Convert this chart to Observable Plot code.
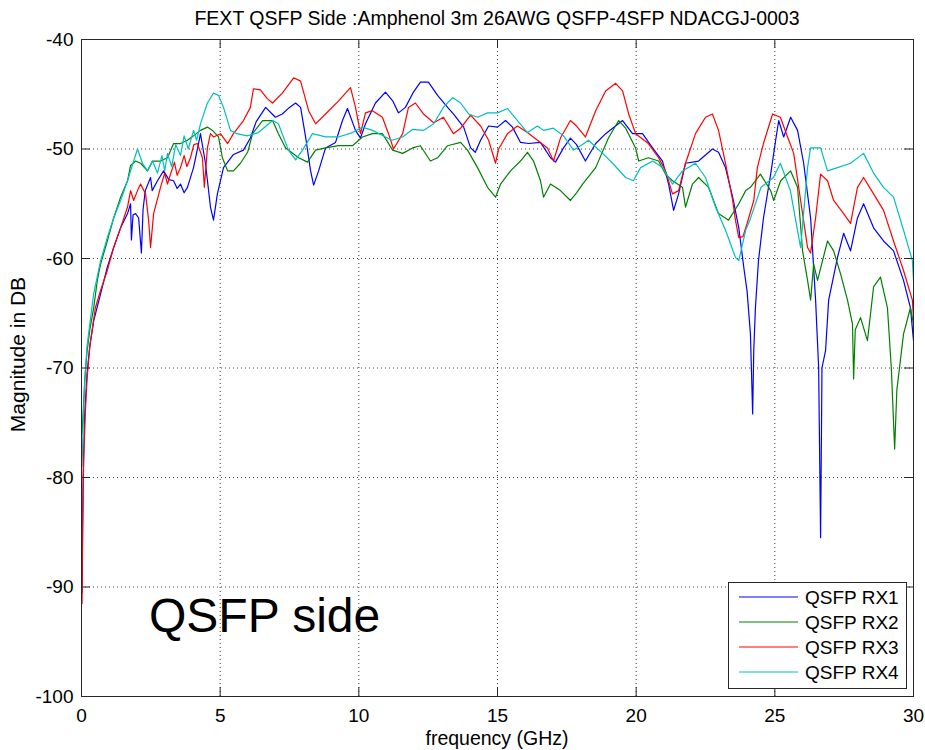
<!DOCTYPE html>
<html>
<head>
<meta charset="utf-8">
<script src="https://cdn.jsdelivr.net/npm/d3@7"></script>
<script src="https://cdn.jsdelivr.net/npm/@observablehq/plot@0.6"></script>
<style>
  body { margin: 0; background: #fff; }
  #chart { width: 925px; height: 750px; }
</style>
</head>
<body>
<div id="chart"></div>
<script>
// Axis ticks and series definitions
const freqTicks = [0, 5, 10, 15, 20, 25, 30];
const dbTicks = [-100, -90, -80, -70, -60, -50, -40];
const seriesNames = ["QSFP RX1", "QSFP RX2", "QSFP RX3", "QSFP RX4"];
const seriesColors = ["#0000ff", "#008000", "#ff0000", "#00bfbf"];
const chartTitle = "FEXT QSFP Side :Amphenol 3m 26AWG QSFP-4SFP NDACGJ-0003";
const xLabel = "frequency (GHz)";
const yLabel = "Magnitude in DB";
const sideNote = "QSFP side";

// Measured far-end crosstalk, [frequency GHz, magnitude dB]
const rx1 = [[0.02,-90.5],[0.06,-80],[0.12,-74],[0.2,-70.5],[0.3,-68],[0.44,-65.7],[0.69,-63.2],[0.93,-60.8],[1.16,-59],[1.41,-57.2],[1.66,-55.9],[1.77,-55],[1.8,-58.3],[1.86,-56],[1.95,-55.9],[2.06,-56.3],[2.16,-59.5],[2.22,-55.5],[2.3,-53.8],[2.49,-52.6],[2.55,-53.8],[2.74,-52.9],[2.96,-52],[3.15,-52.8],[3.32,-52.9],[3.45,-53.6],[3.57,-53.2],[3.7,-54],[3.82,-53.5],[4.04,-51.7],[4.22,-49.5],[4.29,-48.6],[4.47,-51.3],[4.65,-55.3],[4.76,-56.5],[4.9,-54.1],[5.12,-51.7],[5.48,-50.5],[5.84,-50.1],[6.09,-49],[6.3,-47.5],[6.64,-46.2],[6.99,-47.1],[7.24,-46.8],[7.5,-46.2],[7.72,-45.8],[7.9,-46.2],[8.08,-48.9],[8.26,-52],[8.37,-53.3],[8.55,-52],[8.8,-49.9],[9.16,-49.4],[9.41,-47.4],[9.59,-46.3],[9.88,-48.3],[10.06,-49],[10.24,-47.7],[10.6,-45.8],[10.96,-44.8],[11.22,-45.6],[11.43,-46.7],[11.68,-46.2],[11.97,-44.8],[12.22,-43.9],[12.51,-43.9],[12.84,-45.1],[13.2,-46.2],[13.41,-46.8],[13.78,-48],[14.03,-49.9],[14.2,-50.3],[14.39,-49.2],[14.68,-47.9],[15,-48],[15.29,-47.4],[15.54,-48],[15.83,-49.4],[16.12,-49.5],[16.55,-49.4],[16.91,-50.8],[17.09,-51.2],[17.38,-49.9],[17.63,-49],[17.85,-49.6],[18.17,-51.1],[18.54,-49.5],[18.9,-48.6],[19.51,-47.4],[19.87,-48.6],[20.23,-48.6],[20.59,-49.9],[20.95,-51.1],[21.17,-53.2],[21.35,-55.6],[21.53,-54.1],[21.78,-51.3],[22.25,-51.1],[22.75,-50],[22.97,-50.3],[23.22,-51.7],[23.48,-54.4],[23.7,-57.2],[23.88,-60.8],[24,-63],[24.12,-66.9],[24.2,-74.2],[24.24,-68.4],[24.3,-64.5],[24.41,-60.2],[24.59,-56.3],[24.85,-52.3],[25.03,-49.2],[25.14,-47.4],[25.32,-48.9],[25.57,-47.1],[25.82,-48.3],[26.04,-51.3],[26.29,-56.3],[26.47,-63.8],[26.58,-70],[26.65,-85.5],[26.7,-70],[26.83,-68.4],[26.94,-63.8],[27.26,-59.9],[27.48,-57.7],[27.73,-59.3],[27.98,-56.3],[28.2,-55],[28.56,-57.2],[28.92,-58.4],[29.28,-59.3],[29.64,-62],[29.89,-64.5],[30,-67.5]];

const rx2 = [[0.02,-76],[0.06,-74],[0.12,-71],[0.2,-68.5],[0.3,-66.5],[0.44,-64.5],[0.57,-62],[0.69,-60.5],[0.93,-58.4],[1.16,-56.3],[1.41,-54.4],[1.66,-52.9],[1.77,-51.5],[1.95,-51.1],[2.13,-51.3],[2.38,-52],[2.56,-51.1],[2.85,-51.1],[3.1,-50.8],[3.32,-49.5],[3.57,-49.5],[3.82,-49.2],[4.04,-48.8],[4.29,-48.3],[4.54,-48],[4.72,-48.3],[4.94,-48.9],[5.08,-50.8],[5.27,-52],[5.48,-52],[5.73,-51.3],[5.99,-50.3],[6.17,-48.6],[6.53,-47.4],[6.89,-47.4],[7.1,-48.6],[7.36,-49.9],[7.83,-50.8],[8.15,-51.2],[8.44,-50.1],[8.8,-49.9],[9.27,-49.7],[9.77,-49.7],[10.13,-48.9],[10.49,-48.6],[10.85,-48.6],[11.22,-50.1],[11.58,-50.4],[11.94,-49.9],[12.22,-49.7],[12.58,-51.1],[12.84,-50.8],[13.2,-49.7],[13.67,-49.4],[13.92,-50.1],[14.28,-51.7],[14.64,-53.5],[14.93,-54.4],[15.11,-53.2],[15.47,-52],[15.83,-51.1],[16.08,-50.3],[16.3,-51.1],[16.55,-52.9],[16.66,-54.4],[16.91,-53.2],[17.27,-53.8],[17.63,-54.7],[17.85,-54],[18.07,-53.2],[18.54,-51.7],[19,-49],[19.37,-47.4],[19.62,-48.1],[19.98,-49.9],[20.09,-51.1],[20.44,-50.8],[20.81,-51.1],[21.06,-52.3],[21.31,-52.9],[21.67,-53.5],[21.78,-55.3],[22.03,-53.2],[22.25,-52.6],[22.61,-53.5],[22.97,-55.9],[23.33,-56.5],[23.7,-55],[23.95,-53.8],[24.12,-53.5],[24.48,-52.3],[24.85,-53.8],[24.96,-54.7],[25.21,-52.9],[25.57,-52],[25.82,-53.5],[26,-59.3],[26.18,-62],[26.29,-63.8],[26.4,-60.5],[26.54,-62],[26.9,-58.4],[27.12,-59.3],[27.37,-61.4],[27.62,-63.8],[27.8,-66],[27.84,-71],[27.9,-66.5],[28.09,-65.4],[28.34,-67.5],[28.56,-62.6],[28.81,-61.7],[29.06,-64.5],[29.2,-70],[29.32,-77.4],[29.4,-72],[29.64,-66.9],[29.89,-64.5],[30,-66]];

const rx3 = [[0.02,-91.5],[0.04,-84.5],[0.08,-78],[0.14,-74],[0.2,-71],[0.3,-68],[0.5,-64.5],[0.69,-62.9],[0.93,-61.1],[1.16,-59],[1.41,-57.2],[1.66,-55.3],[1.77,-53.8],[1.88,-54.7],[2.02,-53.8],[2.13,-53.2],[2.31,-54.1],[2.42,-56.5],[2.49,-59],[2.6,-55.9],[2.85,-53.5],[3,-52.2],[3.1,-53.2],[3.21,-52.3],[3.35,-51.2],[3.45,-52.4],[3.57,-51.7],[3.7,-50.6],[3.8,-51.6],[3.93,-50.8],[4.05,-49.6],[4.18,-49.5],[4.36,-50.8],[4.43,-53.5],[4.54,-49.9],[4.65,-48.6],[4.76,-48.9],[5.01,-48.6],[5.27,-49.5],[5.48,-48.6],[5.84,-47.4],[6.09,-46.2],[6.2,-44.5],[6.45,-44.6],[6.7,-45.4],[6.89,-45.8],[7.24,-44.9],[7.65,-43.5],[7.9,-43.8],[8.19,-46.5],[8.44,-47.7],[8.8,-46.8],[9.27,-45.6],[9.7,-44.4],[9.88,-46.2],[10.06,-48.6],[10.24,-46.7],[10.49,-46.5],[10.85,-47.1],[11.07,-48.6],[11.25,-50],[11.58,-48.6],[11.79,-46.2],[12.04,-45.8],[12.33,-46.8],[12.7,-47.6],[13.05,-47.1],[13.41,-48.6],[13.67,-48.1],[14.03,-46.9],[14.39,-47.9],[14.68,-49.2],[14.93,-51.3],[15.04,-50],[15.36,-48.6],[15.72,-47.9],[16.08,-48.5],[16.44,-49.2],[16.8,-49.9],[17.02,-51.1],[17.27,-49],[17.63,-47.4],[17.85,-47.9],[18.17,-48.9],[18.54,-46.5],[18.9,-44.7],[19.26,-44],[19.51,-44.7],[19.73,-46.8],[19.98,-48.6],[20.44,-49.5],[20.81,-50.8],[21.06,-52],[21.31,-54.1],[21.53,-53.8],[21.78,-51.3],[22.14,-48.6],[22.5,-47.1],[22.75,-46.8],[22.97,-48.3],[23.22,-51.3],[23.48,-54.7],[23.58,-56.5],[23.7,-58.1],[23.85,-58],[24,-56.8],[24.24,-54.7],[24.37,-51.7],[24.59,-49.5],[24.92,-46.8],[25.2,-47.1],[25.46,-48.9],[25.68,-50.4],[25.93,-54.7],[26.18,-59],[26.29,-59.5],[26.47,-56.3],[26.65,-52.3],[26.9,-52.9],[27.12,-54.7],[27.48,-55.9],[27.73,-56.8],[27.98,-53.5],[28.2,-52.6],[28.56,-54.1],[28.92,-55.6],[29.28,-58.4],[29.64,-61.1],[29.96,-63.8],[30,-65.5]];

const rx4 = [[0.02,-79],[0.06,-75],[0.12,-71],[0.2,-68],[0.3,-66],[0.44,-63.2],[0.69,-60.2],[0.93,-58.1],[1.16,-56.3],[1.41,-54.7],[1.66,-52.9],[1.88,-51.1],[2.02,-50],[2.2,-51.3],[2.38,-52],[2.56,-51.1],[2.74,-52.2],[2.9,-50.6],[3,-52],[3.1,-50.4],[3.25,-51.6],[3.4,-49.6],[3.57,-50.6],[3.7,-48.8],[3.85,-50],[4.04,-48.3],[4.15,-49.2],[4.29,-47.7],[4.54,-45.8],[4.76,-44.9],[4.94,-45.1],[5.12,-46.2],[5.37,-48.3],[5.6,-48.6],[5.97,-48.8],[6.38,-48.5],[6.89,-47.4],[7.1,-47.7],[7.46,-50.1],[7.72,-51],[7.97,-50.1],[8.33,-48.6],[8.8,-48.9],[9.27,-48.9],[9.77,-48.5],[10.13,-48],[10.49,-48.3],[10.96,-48.9],[11.2,-49.2],[11.58,-48.9],[11.94,-48.2],[12.33,-48.3],[12.7,-47.7],[13.05,-46.2],[13.38,-45.3],[13.67,-45.8],[13.96,-46.8],[14.28,-47.1],[14.64,-46.7],[15,-46.7],[15.36,-46.3],[15.72,-47.4],[16.08,-48.5],[16.44,-47.9],[16.66,-48.3],[17.02,-48.1],[17.38,-48.8],[17.74,-50.1],[18,-49.7],[18.28,-49.2],[18.79,-50.4],[19.15,-51.3],[19.62,-52.6],[19.9,-52.9],[20.16,-51.7],[20.6,-51.1],[20.95,-51.7],[21.31,-53.2],[21.67,-52],[22.14,-51.3],[22.5,-52.6],[22.86,-55.3],[23.22,-57.4],[23.58,-59.9],[23.7,-60.2],[23.95,-57.4],[24.1,-56.5],[24.5,-53.5],[24.95,-52.6],[25.2,-51.3],[25.56,-53.8],[25.93,-59],[26.18,-51.7],[26.29,-49.9],[26.65,-49.9],[26.9,-52],[27.26,-51.7],[27.73,-51.3],[28.2,-50.4],[28.56,-52.2],[28.92,-53.5],[29.28,-54.4],[29.64,-57.4],[29.96,-60.2],[30,-62]];

const rows = [rx1, rx2, rx3, rx4].flatMap((s, i) =>
  s.map(([f, db]) => ({ f, db, name: seriesNames[i] }))
);

const W = 925, H = 750;
const mL = 81, mR = 12, mT = 39, mB = 54;
const iw = W - mL - mR, ih = H - mT - mB;
const tickLen = 9;
const font = "'Liberation Sans', Arial, Helvetica, sans-serif";
const frameColor = "#262626";
const plain = d => String(d); // hyphen-minus, as in the original axis labels

const chart = Plot.plot({
  width: W,
  height: H,
  marginLeft: mL,
  marginRight: mR,
  marginTop: mT,
  marginBottom: mB,
  style: { fontFamily: font, fontSize: "19px", background: "#fff", color: "#000" },
  x: { domain: [0, 30], label: null },
  y: { domain: [-100, -40], label: null },
  color: { domain: seriesNames, range: seriesColors },
  marks: [
    Plot.gridX(freqTicks.slice(1, -1), { stroke: "#000", strokeOpacity: 0.75, strokeDasharray: "1,3" }),
    Plot.gridY(dbTicks.slice(1, -1), { stroke: "#000", strokeOpacity: 0.75, strokeDasharray: "1,3" }),
    Plot.line(rows, { x: "f", y: "db", z: "name", stroke: "name", strokeWidth: 1.2 }),
    // inward ticks on all four sides of the box
    Plot.tickX(freqTicks, { x: d => d, insetTop: ih - tickLen, stroke: frameColor }),
    Plot.tickX(freqTicks, { x: d => d, insetBottom: ih - tickLen, stroke: frameColor }),
    Plot.tickY(dbTicks, { y: d => d, insetRight: iw - tickLen, stroke: frameColor }),
    Plot.tickY(dbTicks, { y: d => d, insetLeft: iw - tickLen, stroke: frameColor }),
    Plot.axisX(freqTicks, { tickSize: 0, tickPadding: 12, fontSize: 19, label: null, tickFormat: plain }),
    Plot.axisY(dbTicks, { tickSize: 0, tickPadding: 8, fontSize: 19, label: null, tickFormat: plain }),
    Plot.frame({ stroke: frameColor })
  ]
});

document.getElementById("chart").appendChild(chart);

// Title, axis labels, annotation and legend drawn into the same SVG
const svg = d3.select(chart);
const cx = mL + iw / 2;

svg.append("text")
  .attr("x", cx).attr("y", 25)
  .attr("text-anchor", "middle")
  .style("font", `19.5px ${font}`)
  .text(chartTitle);

svg.append("text")
  .attr("x", cx).attr("y", 745)
  .attr("text-anchor", "middle")
  .style("font", `19.5px ${font}`)
  .text(xLabel);

svg.append("text")
  .attr("transform", `translate(25, ${mT + ih / 2 - 13}) rotate(-90)`)
  .attr("text-anchor", "middle")
  .style("font", `21px ${font}`)
  .text(yLabel);

svg.append("text")
  .attr("x", 149).attr("y", 632)
  .attr("text-anchor", "start")
  .style("font", `48px ${font}`)
  .text(sideNote);

const legend = svg.append("g").attr("text-anchor", "start");
legend.append("rect")
  .attr("x", 728.5).attr("y", 582.5)
  .attr("width", 178).attr("height", 106)
  .attr("fill", "#fff").attr("stroke", frameColor);
seriesNames.forEach((name, i) => {
  const y = 597 + i * 25;
  legend.append("line")
    .attr("x1", 739).attr("x2", 798).attr("y1", y).attr("y2", y)
    .attr("stroke", seriesColors[i]).attr("stroke-width", 1);
  legend.append("text")
    .attr("x", 805).attr("y", y + 6.5)
    .style("font", `19px ${font}`)
    .text(name);
});
</script>
</body>
</html>
